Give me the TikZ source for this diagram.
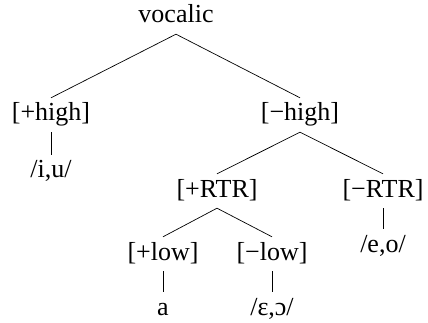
\documentclass[tikz,border=0pt]{standalone}
\usepackage{fontspec}
\setmainfont{Liberation Serif}
\begin{document}
\begin{tikzpicture}[x=1pt,y=-1pt,
  feat/.style={anchor=base,inner sep=0pt,text height=23pt,text depth=11pt,font=\fontsize{26}{30}\selectfont},
  edge/.style={line width=0.7pt}]
\useasboundingbox (0,0) rectangle (428,323);
\node[feat] (voc) at (176,23) {vocalic};
\node[feat] (ph) at (51,121) {[+high]};
\node[feat] (mh) at (300,121) {[−high]};
\node[feat] (iu) at (51,178) {/i,u/};
\node[feat] (prtr) at (217,197) {[+RTR]};
\node[feat] (mrtr) at (383,197) {[−RTR]};
\node[feat] (eo) at (383,252) {/e,o/};
\node[feat] (pl) at (163,260) {[+low]};
\node[feat] (ml) at (272,260) {[−low]};
\node[feat] (a) at (163,315) {a};
\node[feat] (eps) at (272,315) {/ɛ,ɔ/};
\draw[edge] (voc.south) -- (ph.north);
\draw[edge] (voc.south) -- (mh.north);
\draw[edge] (ph.south) -- (iu.north);
\draw[edge] (mh.south) -- (prtr.north);
\draw[edge] (mh.south) -- (mrtr.north);
\draw[edge] (mrtr.south) -- (eo.north);
\draw[edge] (prtr.south) -- (pl.north);
\draw[edge] (prtr.south) -- (ml.north);
\draw[edge] (pl.south) -- (a.north);
\draw[edge] (ml.south) -- (eps.north);
\end{tikzpicture}
\end{document}
